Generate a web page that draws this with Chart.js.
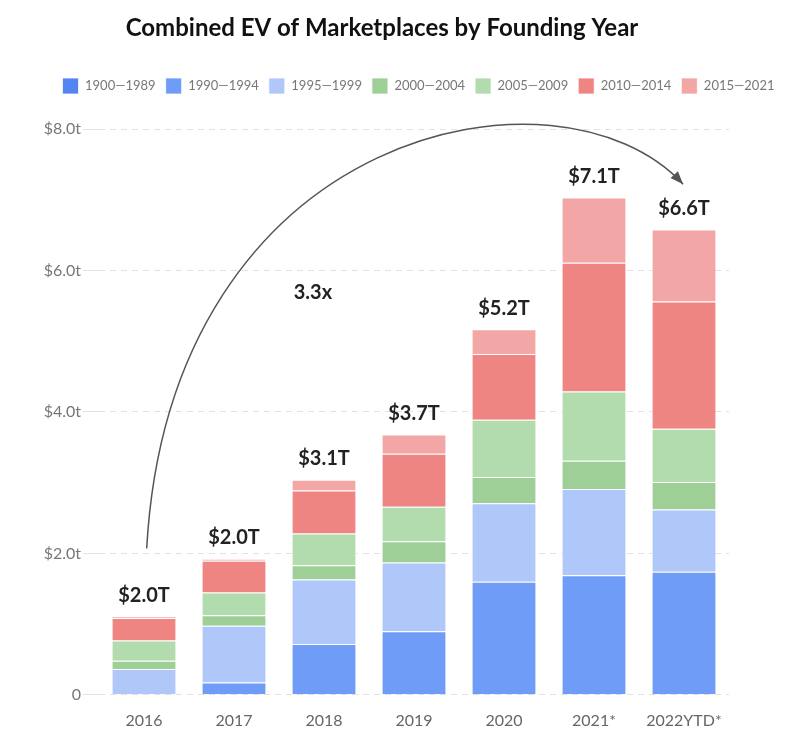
<!DOCTYPE html>
<html>
<head>
<meta charset="utf-8">
<script src="https://cdn.jsdelivr.net/npm/chart.js@4.4.0/dist/chart.umd.min.js"></script>
<style>
  html, body { margin: 0; padding: 0; background: #fff; }
  #wrap { width: 800px; height: 755px; }
</style>
</head>
<body>
<div id="wrap"><canvas id="barChart" width="800" height="755"></canvas></div>
<script>
// values in trillions
var years = ['2016', '2017', '2018', '2019', '2020', '2021*', '2022YTD*'];
var v1900 = [0, 0, 0, 0, 0, 0, 0];
var v1990 = [0, 0.175, 0.72, 0.90, 1.60, 1.69, 1.74];
var v1995 = [0.365, 0.80, 0.91, 0.97, 1.11, 1.22, 0.88];
var v2000 = [0.118, 0.15, 0.20, 0.30, 0.37, 0.40, 0.39];
var v2005 = [0.284, 0.32, 0.45, 0.49, 0.81, 0.98, 0.75];
var v2010 = [0.32, 0.45, 0.61, 0.75, 0.93, 1.82, 1.80];
var v2015 = [0.02, 0.03, 0.15, 0.27, 0.35, 0.92, 1.02];
var totalLabels = ['$2.0T', '$2.0T', '$3.1T', '$3.7T', '$5.2T', '$7.1T', '$6.6T'];
var yTicks = [0, 2, 4, 6, 8];

var FONT = 'Lato, "Noto Sans", sans-serif';

function ds(label, data, color) {
    return {
        label: label,
        data: data,
        backgroundColor: color,
        borderColor: 'rgba(255,255,255,0.75)',
        borderWidth: 1,
        barPercentage: 0.72,
        categoryPercentage: 1.0
    };
}

// title drawn by hand so it can sit a bit left of centre like the original
var titlePlugin = {
    id: 'titleText',
    beforeLayout: function(chart) {
        // leave a gap between legend and plot
        if (chart.legend && !chart.legend._padded) {
            var fit = chart.legend.fit;
            chart.legend.fit = function() {
                fit.call(this);
                this.height += 25;
            };
            chart.legend._padded = true;
        }
    },
    afterDraw: function(chart) {
        var c = chart.ctx;
        c.save();
        c.font = 'bold 24px ' + FONT;
        c.fillStyle = '#111';
        c.textAlign = 'center';
        c.textBaseline = 'middle';
        c.fillText('Combined EV of Marketplaces by Founding Year', 382, 28);
        c.restore();
    }
};

// totals above bars + the 3.3x arc
var labelPlugin = {
    id: 'totals',
    afterDatasetsDraw: function(chart) {
        var c = chart.ctx;
        var xs = chart.scales.x, ys = chart.scales.y;
        c.save();
        c.font = 'bold 20px ' + FONT;
        c.fillStyle = '#222';
        c.textAlign = 'center';
        c.textBaseline = 'middle';
        for (var i = 0; i < years.length; i++) {
            var tot = v1900[i] + v1990[i] + v1995[i] + v2000[i] + v2005[i] + v2010[i] + v2015[i];
            c.fillText(totalLabels[i], xs.getPixelForValue(i), ys.getPixelForValue(tot) - 21);
        }
        c.fillText('3.3x', xs.getPixelForValue(1.877), ys.getPixelForValue(5.69));

        // arc from 2016 to 2022
        var p0 = [xs.getPixelForValue(0.03), ys.getPixelForValue(2.07)];
        var p1 = [xs.getPixelForValue(0.29), ys.getPixelForValue(8.05)];
        var p2 = [xs.getPixelForValue(4.62), ys.getPixelForValue(9.1)];
        var p3 = [xs.getPixelForValue(5.99), ys.getPixelForValue(7.22)];
        c.strokeStyle = '#555';
        c.lineWidth = 1.5;
        c.beginPath();
        c.moveTo(p0[0], p0[1]);
        c.bezierCurveTo(p1[0], p1[1], p2[0], p2[1], p3[0], p3[1]);
        c.stroke();
        var ang = Math.atan2(p3[1] - p2[1], p3[0] - p2[0]);
        var L = 13, W = 5;
        c.fillStyle = '#555';
        c.beginPath();
        c.moveTo(p3[0], p3[1]);
        c.lineTo(p3[0] - L * Math.cos(ang) + W * Math.sin(ang), p3[1] - L * Math.sin(ang) - W * Math.cos(ang));
        c.lineTo(p3[0] - L * Math.cos(ang) - W * Math.sin(ang), p3[1] - L * Math.sin(ang) + W * Math.cos(ang));
        c.closePath();
        c.fill();
        c.restore();
    }
};

var ctx = document.getElementById('barChart').getContext('2d');
var myChart = new Chart(ctx, {
    type: 'bar',
    data: {
        labels: years,
        datasets: [
            ds('1900—1989', v1900, '#5585f2'),
            ds('1990—1994', v1990, '#6f9cf6'),
            ds('1995—1999', v1995, '#b0c7f9'),
            ds('2000—2004', v2000, '#9dcf96'),
            ds('2005—2009', v2005, '#b3dcae'),
            ds('2010—2014', v2010, '#ef8582'),
            ds('2015—2021', v2015, '#f2a6a5')
        ]
    },
    plugins: [titlePlugin, labelPlugin],
    options: {
        responsive: false,
        animation: false,
        layout: { padding: { top: 68, left: 42, right: 5, bottom: 17 } },
        plugins: {
            title: { display: false },
            tooltip: { enabled: false },
            legend: {
                position: 'top',
                align: 'center',
                labels: {
                    boxWidth: 16,
                    boxHeight: 16,
                    padding: 10,
                    color: '#777',
                    font: { family: FONT, size: 13 }
                }
            }
        },
        scales: {
            x: {
                stacked: true,
                grid: { display: false },
                border: { display: false },
                ticks: {
                    color: '#666',
                    padding: 8,
                    font: { family: FONT, size: 16 }
                }
            },
            y: {
                stacked: true,
                min: 0,
                max: 8,
                afterFit: function(scale) { scale.width = 57; },
                afterBuildTicks: function(scale) {
                    scale.ticks = yTicks.map(function(v) { return { value: v }; });
                },
                grid: { color: '#e2e2e2', lineWidth: 1, tickLength: 16 },
                border: { display: false, dash: [6, 5] },
                ticks: {
                    color: '#777',
                    padding: 2,
                    font: { family: FONT, size: 16 },
                    callback: function(value) {
                        return value === 0 ? '0' : '$' + value.toFixed(1) + 't';
                    }
                }
            },
            // empty axis on the right just to hold the margin there
            yRight: {
                position: 'right',
                display: true,
                grid: { display: false },
                border: { display: false },
                ticks: { display: false },
                afterFit: function(scale) { scale.width = 66; }
            }
        }
    }
});
</script>
</body>
</html>
